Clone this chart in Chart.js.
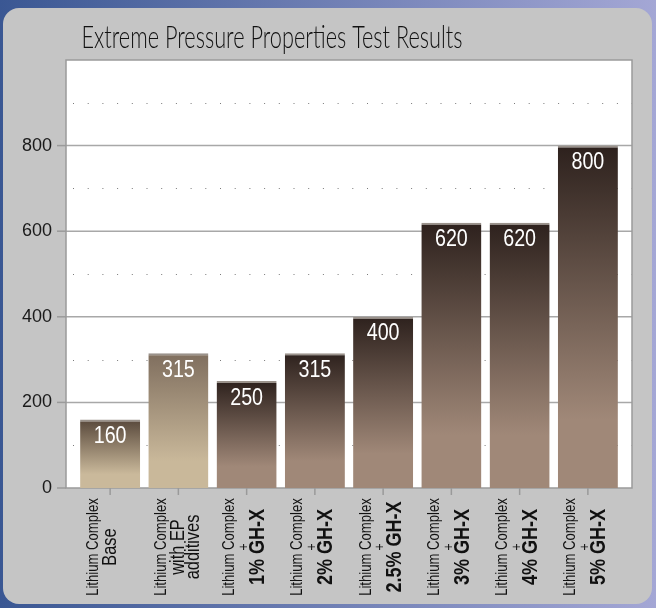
<!DOCTYPE html>
<html>
<head>
<meta charset="utf-8">
<script src="https://cdn.jsdelivr.net/npm/chart.js@4"></script>
<style>
  html, body { margin: 0; padding: 0; overflow: hidden; background: #3a5793; }
  canvas { display: block; }
</style>
</head>
<body>
<canvas id="ep-chart" width="656" height="608"></canvas>
<script>
// chart data
const chartTitle = "Extreme Pressure Properties Test Results";
const categories = [
  ["Lithium Complex", "Base"],
  ["Lithium Complex", "with EP", "additives"],
  ["Lithium Complex", "+", "1% GH-X"],
  ["Lithium Complex", "+", "2% GH-X"],
  ["Lithium Complex", "+", "2.5% GH-X"],
  ["Lithium Complex", "+", "3% GH-X"],
  ["Lithium Complex", "+", "4% GH-X"],
  ["Lithium Complex", "+", "5% GH-X"],
];
const loadValues = [160, 315, 250, 315, 400, 620, 620, 800];
const yMax = 1000;
const yStep = 200;

// bar gradient colours (top -> bottom)
const topColors = ["#58483b", "#7f6e5e", "#2d211d", "#2d211d", "#2d211d", "#2d211d", "#2d211d", "#2d211d"];
const bottomColors = ["#cab99b", "#c9b89a", "#a08878", "#a08878", "#a08878", "#a08878", "#a08878", "#a08878"];

const SANS = "'Liberation Sans', Arial, sans-serif";
const CONDENSE = 0.82; // no narrow font installed, squeeze text instead

function barFill(context) {
  const chart = context.chart;
  if (!chart.chartArea) return bottomColors[context.dataIndex];
  const i = context.dataIndex;
  const y = chart.scales.y;
  const top = y.getPixelForValue(loadValues[i]);
  const base = y.getPixelForValue(0);
  const g = chart.ctx.createLinearGradient(0, top, 0, base);
  g.addColorStop(0, topColors[i]);
  g.addColorStop(0.8, bottomColors[i]);
  g.addColorStop(1, bottomColors[i]);
  return g;
}

function condensedText(ctx, text, x, y, squeeze) {
  ctx.save();
  ctx.translate(x, y);
  ctx.scale(squeeze, 1);
  ctx.fillText(text, 0, 0);
  ctx.restore();
}

// background, panel, plot frame, grid and texts
const framePlugin = {
  id: "frame",
  beforeDraw(chart) {
    const ctx = chart.ctx;
    const w = chart.width, h = chart.height;
    ctx.save();
    const bg = ctx.createLinearGradient(0, 0, w, 0);
    bg.addColorStop(0, "#3a5793");
    bg.addColorStop(1, "#a4a7d5");
    ctx.fillStyle = bg;
    ctx.fillRect(0, 0, w, h);
    ctx.fillStyle = "#c5c5c5";
    ctx.beginPath();
    ctx.roundRect(3, 8, w - 7, h - 12, 16);
    ctx.fill();

    // title (thin, condensed look)
    ctx.fillStyle = "#111111";
    ctx.font = "300 32px Lato, " + SANS;
    ctx.textAlign = "center";
    ctx.textBaseline = "alphabetic";
    const tw = ctx.measureText(chartTitle).width;
    condensedText(ctx, chartTitle, 272, 48, 381 / tw);
    ctx.restore();
  },
  beforeDatasetsDraw(chart) {
    const ctx = chart.ctx;
    const area = chart.chartArea;
    const y = chart.scales.y;
    const x = chart.scales.x;
    const left = area.left - 10;
    const right = area.right + 10;
    ctx.save();
    ctx.fillStyle = "#ffffff";
    ctx.fillRect(left, area.top, right - left, area.bottom - area.top);

    const ticks = y.ticks.map((t) => t.value);
    // dotted lines halfway between ticks
    ctx.strokeStyle = "#7a7a7a";
    ctx.lineWidth = 1;
    ctx.setLineDash([1, 13.7]);
    for (let k = 0; k < ticks.length - 1; k++) {
      const py = Math.round(y.getPixelForValue((ticks[k] + ticks[k + 1]) / 2)) + 0.5;
      ctx.beginPath();
      ctx.moveTo(left + 7, py);
      ctx.lineTo(right, py);
      ctx.stroke();
    }
    ctx.setLineDash([]);

    // solid grid lines
    ctx.strokeStyle = "#a8a8a8";
    ctx.lineWidth = 1.5;
    ticks.forEach((v) => {
      if (v === 0 || v === yMax) return;
      const py = y.getPixelForValue(v);
      ctx.beginPath();
      ctx.moveTo(left, py);
      ctx.lineTo(right, py);
      ctx.stroke();
    });

    // frame
    ctx.strokeStyle = "#9a9a9a";
    ctx.lineWidth = 1.5;
    ctx.strokeRect(left, area.top, right - left, area.bottom - area.top);

    // tick marks
    ticks.forEach((v) => {
      if (v === yMax) return;
      const py = y.getPixelForValue(v);
      ctx.beginPath();
      ctx.moveTo(left - 9, py);
      ctx.lineTo(left, py);
      ctx.stroke();
    });
    categories.forEach((c, i) => {
      const px = x.getPixelForValue(i);
      ctx.beginPath();
      ctx.moveTo(px, area.bottom);
      ctx.lineTo(px, area.bottom + 7);
      ctx.stroke();
    });
    ctx.restore();
  },
  afterDatasetsDraw(chart) {
    // value labels inside bar tops
    const ctx = chart.ctx;
    const meta = chart.getDatasetMeta(0);
    ctx.save();
    ctx.fillStyle = "#ffffff";
    ctx.font = "24px " + SANS;
    ctx.textAlign = "center";
    ctx.textBaseline = "middle";
    meta.data.forEach((bar, i) => {
      condensedText(ctx, String(loadValues[i]), bar.x, bar.y + 17, CONDENSE);
    });
    ctx.restore();
  },
  afterDraw(chart) {
    // rotated multi-font category labels
    const ctx = chart.ctx;
    const x = chart.scales.x;
    const midY = chart.chartArea.bottom + 59;
    ctx.save();
    ctx.fillStyle = "#111111";
    ctx.textAlign = "center";
    ctx.textBaseline = "middle";
    categories.forEach((lines, i) => {
      const px = x.getPixelForValue(i);
      ctx.save();
      ctx.translate(px, midY);
      ctx.rotate(-Math.PI / 2);
      ctx.scale(CONDENSE, 1);
      let pos = -17;
      let mediumCount = 0;
      lines.forEach((text, j) => {
        if (j === 0) {
          ctx.font = "16px " + SANS;
        } else if (text === "+") {
          pos += 14;
          ctx.font = "15px " + SANS;
        } else if (lines[j - 1] === "+") {
          pos += 14.5;
          ctx.font = "bold 22px " + SANS;
        } else {
          pos += mediumCount === 0 ? 17 : 15;
          mediumCount++;
          ctx.font = "20px " + SANS;
        }
        ctx.fillText(text, 0, pos);
      });
      ctx.restore();
    });
    ctx.restore();
  },
};

new Chart(document.getElementById("ep-chart"), {
  type: "bar",
  data: {
    labels: categories.map((c) => c.join(" ")),
    datasets: [
      {
        label: "Load",
        data: loadValues,
        backgroundColor: barFill,
        borderColor: "#9a928b",
        borderWidth: { top: 2, left: 0, right: 0, bottom: 0 },
        borderSkipped: "bottom",
        barPercentage: 0.88,
        categoryPercentage: 1,
      },
    ],
  },
  options: {
    responsive: false,
    animation: false,
    layout: {
      padding: { top: 60, left: 0, right: 34, bottom: 120 },
    },
    plugins: {
      legend: { display: false },
      tooltip: { enabled: false },
      title: { display: false },
    },
    scales: {
      x: {
        display: false,
        offset: true,
      },
      y: {
        min: 0,
        max: yMax,
        afterFit: (scale) => {
          scale.width = 76;
        },
        grid: { display: false, drawTicks: false },
        border: { display: false },
        ticks: {
          stepSize: yStep,
          padding: 24,
          color: "#1a1a1a",
          font: { size: 18, family: SANS },
          callback: (v) => (v === yMax ? "" : v),
        },
      },
    },
  },
  plugins: [framePlugin],
});
</script>
</body>
</html>
